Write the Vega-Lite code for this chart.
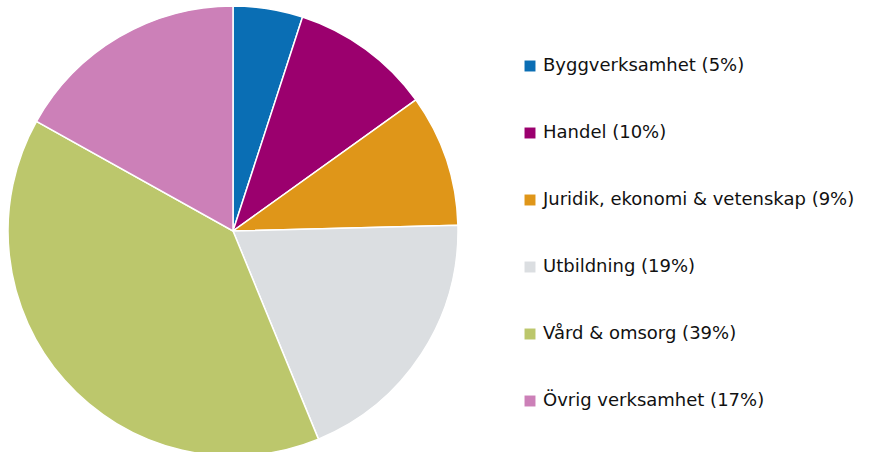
{
  "$schema": "https://vega.github.io/schema/vega-lite/v6.json",
  "width": 466,
  "height": 462,
  "autosize": {"type": "pad"},
  "padding": 0,
  "background": "white",
  "data": {
    "values": [
      {"kategori": "Byggverksamhet (5%)", "andel": 5.0, "ordning": 1},
      {"kategori": "Handel (10%)", "andel": 10.1, "ordning": 2},
      {"kategori": "Juridik, ekonomi & vetenskap (9%)", "andel": 9.5, "ordning": 3},
      {"kategori": "Utbildning (19%)", "andel": 19.2, "ordning": 4},
      {"kategori": "Vård & omsorg (39%)", "andel": 39.3, "ordning": 5},
      {"kategori": "Övrig verksamhet (17%)", "andel": 16.9, "ordning": 6}
    ]
  },
  "mark": {"type": "arc", "outerRadius": 225, "stroke": "white", "strokeWidth": 1.5},
  "encoding": {
    "theta": {"field": "andel", "type": "quantitative", "stack": true},
    "order": {"field": "ordning", "type": "quantitative"},
    "color": {
      "field": "kategori",
      "type": "nominal",
      "scale": {
        "domain": ["Byggverksamhet (5%)", "Handel (10%)", "Juridik, ekonomi & vetenskap (9%)", "Utbildning (19%)", "Vård & omsorg (39%)", "Övrig verksamhet (17%)"],
        "range": ["#0a6eb4", "#9b006e", "#df9619", "#dbdee1", "#bcc76c", "#cc80b8"]
      },
      "legend": {
        "title": null,
        "orient": "none",
        "legendX": 521,
        "legendY": 57,
        "symbolType": "square",
        "symbolSize": 120,
        "symbolStrokeWidth": 0,
        "labelFont": "DejaVu Sans",
        "labelFontSize": 18,
        "labelColor": "#111111",
        "labelOffset": 4,
        "labelLimit": 400,
        "rowPadding": 49
      }
    }
  }
}
